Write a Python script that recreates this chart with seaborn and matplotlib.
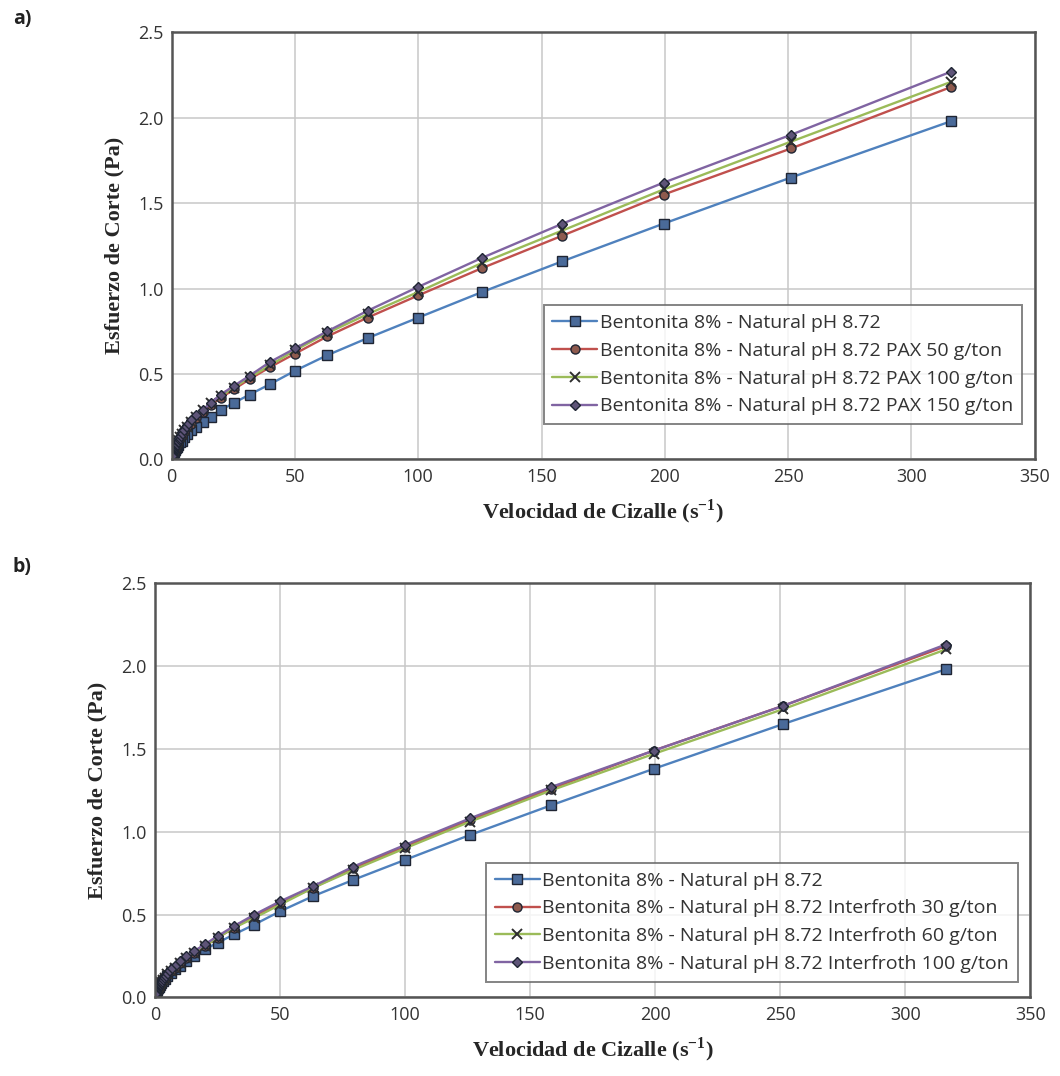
import matplotlib
matplotlib.use("Agg")
import matplotlib.pyplot as plt
import pandas as pd
import seaborn as sns

# shear rate sweep (s^-1), same for every series
rate = [316.2, 251.2, 199.5, 158.5, 125.9, 100.0, 79.43, 63.10, 50.12, 39.81,
        31.62, 25.12, 19.95, 15.85, 12.59, 10.0, 7.943, 6.310, 5.012, 3.981,
        3.162, 2.512, 1.995, 1.585, 1.259, 1.0, 0.794, 0.631, 0.501, 0.398,
        0.316, 0.251, 0.200, 0.158, 0.126, 0.100]

natural = [1.98, 1.65, 1.38, 1.16, 0.98, 0.83, 0.71, 0.61, 0.52, 0.44, 0.38, 0.33,
           0.29, 0.25, 0.22, 0.19, 0.17, 0.15, 0.13, 0.11, 0.10, 0.085, 0.075, 0.065,
           0.057, 0.050, 0.044, 0.039, 0.034, 0.030, 0.027, 0.024, 0.021, 0.019, 0.017, 0.015]

pax50 = [2.18, 1.82, 1.55, 1.31, 1.12, 0.96, 0.83, 0.72, 0.62, 0.54, 0.47, 0.41,
         0.36, 0.32, 0.28, 0.24, 0.21, 0.19, 0.16, 0.14, 0.125, 0.11, 0.097, 0.086,
         0.076, 0.067, 0.059, 0.052, 0.046, 0.041, 0.036, 0.032, 0.028, 0.025, 0.022, 0.020]
pax100 = [2.21, 1.86, 1.58, 1.34, 1.15, 0.98, 0.85, 0.74, 0.64, 0.55, 0.48, 0.42,
          0.37, 0.33, 0.29, 0.25, 0.22, 0.19, 0.17, 0.15, 0.13, 0.115, 0.10, 0.089,
          0.079, 0.070, 0.062, 0.055, 0.048, 0.043, 0.038, 0.034, 0.030, 0.027, 0.024, 0.021]
pax150 = [2.27, 1.90, 1.62, 1.38, 1.18, 1.01, 0.87, 0.75, 0.65, 0.57, 0.49, 0.43,
          0.38, 0.33, 0.29, 0.26, 0.23, 0.20, 0.18, 0.16, 0.14, 0.12, 0.105, 0.093,
          0.082, 0.073, 0.065, 0.057, 0.050, 0.045, 0.040, 0.035, 0.031, 0.028, 0.025, 0.022]

inter30 = [2.12, 1.76, 1.49, 1.26, 1.07, 0.91, 0.78, 0.66, 0.57, 0.49, 0.42, 0.36,
           0.31, 0.27, 0.24, 0.21, 0.18, 0.16, 0.14, 0.12, 0.11, 0.095, 0.083, 0.073,
           0.064, 0.057, 0.050, 0.044, 0.039, 0.034, 0.030, 0.027, 0.024, 0.021, 0.019, 0.017]
inter60 = [2.10, 1.74, 1.47, 1.25, 1.06, 0.90, 0.77, 0.66, 0.56, 0.48, 0.42, 0.36,
           0.31, 0.27, 0.24, 0.21, 0.18, 0.16, 0.14, 0.12, 0.105, 0.092, 0.081, 0.071,
           0.063, 0.056, 0.049, 0.043, 0.038, 0.034, 0.030, 0.026, 0.023, 0.021, 0.019, 0.017]
inter100 = [2.13, 1.76, 1.49, 1.27, 1.08, 0.92, 0.79, 0.67, 0.58, 0.50, 0.43, 0.37,
            0.32, 0.28, 0.25, 0.22, 0.19, 0.17, 0.15, 0.13, 0.11, 0.097, 0.085, 0.075,
            0.066, 0.058, 0.051, 0.045, 0.040, 0.035, 0.031, 0.028, 0.025, 0.022, 0.020, 0.018]

base = "Bentonita 8% - Natural pH 8.72"
labels_a = [base, base + " PAX 50 g/ton", base + " PAX 100 g/ton", base + " PAX 150 g/ton"]
labels_b = [base, base + " Interfroth 30 g/ton", base + " Interfroth 60 g/ton",
            base + " Interfroth 100 g/ton"]

sns.set_theme(style="whitegrid")
plt.rcParams['font.family'] = ['Open Sans', 'DejaVu Sans']
plt.rcParams['mathtext.fontset'] = 'custom'
plt.rcParams['mathtext.rm'] = 'Liberation Serif:bold'
plt.rcParams['mathtext.bf'] = 'Liberation Serif:bold'

# excel-ish series styles: line colour, marker, marker face
styles = [("#4F81BD", "s", "#4A6A99"),
          ("#C0504D", "o", "#8E5A4E"),
          ("#9BBB59", "x", "#3a3a3a"),
          ("#8064A2", "D", "#5E5478")]

fig = plt.figure(figsize=(10.6, 10.76), dpi=100)
ax_a = fig.add_axes([0.162, 0.573, 0.814, 0.397])
ax_b = fig.add_axes([0.146, 0.073, 0.826, 0.385])


def draw(ax, series, labels, leg_box):
    for vals, lab, (lc, mk, mf) in zip(series, labels, styles):
        df = pd.DataFrame({"rate": rate, "tau": vals})
        kw = dict(markerfacecolor=mf, markeredgecolor="#1f2533", markeredgewidth=1.0)
        if mk == "x":
            kw = dict(markeredgecolor="#2e2e2e", markeredgewidth=1.4)
        sns.lineplot(data=df, x="rate", y="tau", ax=ax, color=lc, lw=1.7,
                     marker=mk, markersize=6.5 if mk != "D" else 5.5, label=lab,
                     sort=False, estimator=None, **kw)
    ax.set_xlim(0, 350)
    ax.set_ylim(0, 2.5)
    ax.set_xticks(range(0, 351, 50))
    ax.set_yticks([0, 0.5, 1.0, 1.5, 2.0, 2.5])
    ax.set_yticklabels(["0.0", "0.5", "1.0", "1.5", "2.0", "2.5"])
    ax.tick_params(labelsize=13, colors="#333333", pad=6, length=0)
    ax.grid(True, color="#c8c8c8", lw=1.1)
    for sp in ax.spines.values():
        sp.set_color("#555555")
        sp.set_linewidth(1.8)
    ax.set_xlabel("Velocidad de Cizalle (s$^{-1}$)", family="Liberation Serif",
                  fontweight="bold", fontsize=16, labelpad=8)
    ax.set_ylabel("Esfuerzo de Corte (Pa)", family="Liberation Serif",
                  fontweight="bold", fontsize=16, labelpad=10)
    leg = ax.legend(loc="lower right", bbox_to_anchor=leg_box, fontsize=14,
                    frameon=True, fancybox=False, handlelength=2.3, handletextpad=0.15,
                    borderpad=0.45, labelspacing=0.5)
    leg.get_frame().set_edgecolor("#666666")
    leg.get_frame().set_linewidth(1.4)
    for t in leg.get_texts():
        t.set_color("#333333")


draw(ax_a, [natural, pax50, pax100, pax150], labels_a, (0.997, 0.06))
draw(ax_b, [natural, inter30, inter60, inter100], labels_b, (0.997, 0.015))

fig.text(0.012, 0.978, "a)", fontsize=14, fontweight="bold", color="#222222")
fig.text(0.012, 0.468, "b)", fontsize=14, fontweight="bold", color="#222222")

fig.savefig("out.png", dpi=100, facecolor="white")
